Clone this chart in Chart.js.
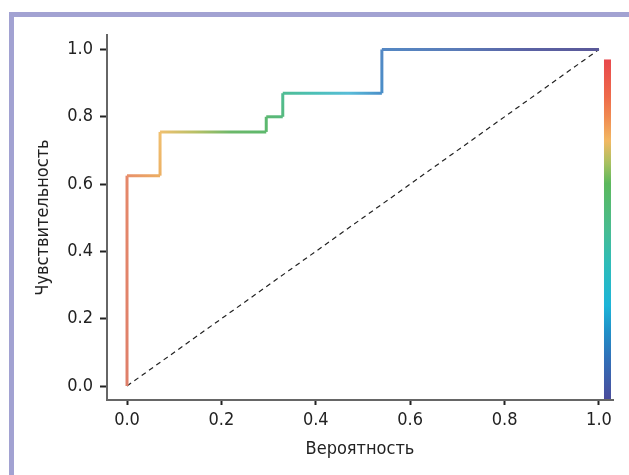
<!DOCTYPE html>
<html lang="ru">
<head>
  <meta charset="UTF-8">
  <title>ROC</title>
  <script src="https://cdn.jsdelivr.net/npm/chart.js"></script>
  <style>
    body { margin: 0; background: #fff; }
    #frame { position: absolute; left: 9px; top: 12px; right: 0; bottom: 0;
             border-top: 5px solid #a2a2d2; border-left: 5px solid #a2a2d2; }
    canvas { position: absolute; left: 0; top: 0; }
  </style>
</head>
<body>
  <div id="frame"></div>
  <canvas id="roc" width="629" height="475"></canvas>
  <script>
    // ROC curve (step points)
    const fpr = [0, 0, 0.07, 0.07, 0.295, 0.295, 0.33, 0.33, 0.54, 0.54, 1.0];
    const tpr = [0, 0.625, 0.625, 0.755, 0.755, 0.8, 0.8, 0.87, 0.87, 1.0, 1.0];
    const diagX = [0, 1];
    const diagY = [0, 1];
    const tickVals = [0, 0.2, 0.4, 0.6, 0.8, 1.0];
    const xTitle = 'Вероятность';
    const yTitle = 'Чувствительность';

    // colours along the curve, one list of stops per segment
    const segStops = [
      ['#df7f6a', '#e5886a'],
      ['#e8906a', '#ecae62'],
      ['#ecb064', '#f0c070'],
      ['#f0c070', '#b8c066', '#6cb86a', '#5db86c'],
      ['#5db86c', '#5cb872'],
      ['#5cb872', '#56b97e'],
      ['#56b97e', '#50bd94'],
      ['#50bd94', '#4cc0b8', '#58bcd8', '#4a8ec8'],
      ['#4a8ec8', '#5488c4'],
      ['#5488c4', '#5a7cb8', '#5a62a4', '#5a5898']
    ];
    const cbarStops = [
      [0, '#e8474c'], [0.11, '#ee6a4a'], [0.17, '#f08a50'], [0.24, '#f2b862'],
      [0.305, '#a8c060'], [0.365, '#5cb85c'], [0.5, '#48bc90'], [0.6, '#2ebcb8'],
      [0.725, '#1cb4d8'], [0.8, '#2090c8'], [0.88, '#3070b8'], [1, '#4a4c9c']
    ];

    const font = "'Liberation Sans Narrow', 'DejaVu Sans Condensed', sans-serif";

    const colorbar = {
      id: 'colorbar',
      afterDraw(chart) {
        const { ctx, scales: { x, y }, chartArea } = chart;
        const left = x.getPixelForValue(1) + 5;
        const top = y.getPixelForValue(1) + 10;
        const bottom = chartArea.bottom - 1;
        const g = ctx.createLinearGradient(0, top, 0, bottom);
        cbarStops.forEach(s => g.addColorStop(s[0], s[1]));
        ctx.save();
        ctx.fillStyle = g;
        ctx.fillRect(left, top, 7, bottom - top);
        ctx.restore();
      }
    };

    const ctx = document.getElementById('roc').getContext('2d');
    new Chart(ctx, {
      type: 'line',
      data: {
        datasets: [{
          data: fpr.map((v, i) => ({ x: v, y: tpr[i] })),
          borderWidth: 3,
          pointRadius: 0,
          tension: 0,
          borderJoinStyle: 'miter',
          segment: {
            borderColor: c => {
              const stops = segStops[c.p0DataIndex];
              const g = c.chart.ctx.createLinearGradient(c.p0.x, c.p0.y, c.p1.x, c.p1.y);
              stops.forEach((col, k) => g.addColorStop(k / (stops.length - 1), col));
              return g;
            }
          }
        }, {
          data: diagX.map((v, i) => ({ x: v, y: diagY[i] })),
          borderColor: '#222',
          borderWidth: 1.2,
          borderDash: [5, 4],
          pointRadius: 0,
          tension: 0
        }]
      },
      options: {
        responsive: false,
        animation: false,
        devicePixelRatio: 1,
        layout: { padding: { top: 35, right: 16, left: 0, bottom: 0 } },
        plugins: { legend: { display: false }, tooltip: { enabled: false } },
        scales: {
          x: {
            type: 'linear',
            min: -0.0424,
            max: 1.0297,
            afterFit: s => { s.height = 75; },
            afterBuildTicks: s => { s.ticks = tickVals.map(v => ({ value: v })); },
            grid: { drawOnChartArea: false, tickLength: 5, tickColor: '#222', tickWidth: 2 },
            border: { color: '#666', width: 2 },
            ticks: { padding: 5, color: '#222', font: { family: font, size: 18 },
                     callback: v => v.toFixed(1) },
            title: { display: true, text: xTitle, color: '#222',
                     font: { family: font, size: 18 }, padding: { bottom: 15 } }
          },
          y: {
            min: -0.0416,
            max: 1.043,
            afterFit: s => { s.width = 107; },
            afterBuildTicks: s => { s.ticks = tickVals.map(v => ({ value: v })); },
            grid: { drawOnChartArea: false, tickLength: 7, tickColor: '#222', tickWidth: 2 },
            border: { color: '#666', width: 2 },
            ticks: { padding: 7, color: '#222', font: { family: font, size: 18 },
                     callback: v => v.toFixed(1) },
            title: { display: true, text: yTitle, color: '#222',
                     font: { family: font, size: 18 }, padding: { top: 33 } }
          }
        }
      },
      plugins: [colorbar]
    });
  </script>
</body>
</html>
